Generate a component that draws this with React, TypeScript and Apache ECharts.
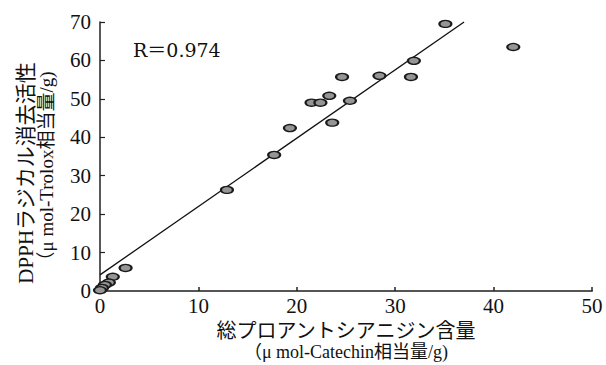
import React, { useEffect, useRef } from "react";
import * as echarts from "echarts";

const proanthocyanidin: number[] = [35.1, 42.0, 31.9, 31.6, 28.4, 24.6, 23.3, 21.5, 22.4, 25.4, 23.6, 19.3, 17.7, 12.9, 2.6, 1.3, 0.9, 0.5, 0.2, 0.0];
const dpph: number[] = [69.5, 63.5, 59.9, 55.7, 56.0, 55.7, 50.8, 49.0, 49.0, 49.5, 43.8, 42.4, 35.4, 26.3, 6.0, 3.7, 2.2, 1.6, 0.8, 0.2];
const fitX: number[] = [0, 37];
const fitY: number[] = [4.2, 70];
const xTicks = { min: 0, max: 50, interval: 10 };
const yTicks = { min: 0, max: 70, interval: 10 };

const xName1 = "総プロアントシアニジン含量";
const xName2 = "（μ mol-Catechin相当量/g)";
const yName1 = "DPPHラジカル消去活性";
const yName2 = "（μ mol-Trolox相当量/g)";
const rLabel = "R＝0.974";

const FONT = "'Liberation Serif', 'Noto Sans CJK JP', serif";

export default function App() {
  const ref = useRef<HTMLDivElement>(null);
  useEffect(() => {
    if (!ref.current) return;
    const chart = echarts.init(ref.current, undefined, { renderer: "svg" });
    chart.setOption({
      animation: false,
      backgroundColor: "#ffffff",
      grid: { left: 100, right: 14, top: 22, bottom: 74 },
      xAxis: {
        type: "value",
        min: xTicks.min,
        max: xTicks.max,
        interval: xTicks.interval,
        splitLine: { show: false },
        axisLine: { show: true, lineStyle: { color: "#555", width: 2 } },
        axisTick: { show: true, inside: true, length: 4, lineStyle: { color: "#222", width: 1.5 } },
        axisLabel: { color: "#111", fontSize: 21, fontFamily: FONT, margin: 4 },
      },
      yAxis: {
        type: "value",
        min: yTicks.min,
        max: yTicks.max,
        interval: yTicks.interval,
        splitLine: { show: false },
        axisLine: { show: true, lineStyle: { color: "#222", width: 1.5 } },
        axisTick: { show: true, inside: true, length: 5, lineStyle: { color: "#222", width: 1.2 } },
        axisLabel: { color: "#111", fontSize: 21, fontFamily: FONT, margin: 9 },
      },
      series: [
        {
          type: "line",
          data: fitX.map((x, i) => [x, fitY[i]]),
          symbol: "none",
          clip: false,
          lineStyle: { color: "#111", width: 1.3 },
          z: 1,
        },
        {
          type: "scatter",
          data: proanthocyanidin.map((x, i) => [x, dpph[i]]),
          symbol: "circle",
          symbolSize: [12, 7],
          clip: false,
          itemStyle: { color: "#959595", borderColor: "#1a1a1a", borderWidth: 1.7, opacity: 1 },
          z: 3,
        },
      ],
      graphic: [
        {
          type: "text",
          left: 133,
          top: 40,
          style: { text: rLabel, font: "19px 'DejaVu Serif', 'Noto Sans CJK JP', serif", fill: "#111" },
        },
        {
          type: "text",
          x: 346,
          y: 331,
          style: { text: xName1, font: "20px " + FONT, fill: "#111", textAlign: "center", textVerticalAlign: "middle" },
        },
        {
          type: "text",
          x: 346,
          y: 352,
          style: { text: xName2, font: "18px " + FONT, fill: "#111", textAlign: "center", textVerticalAlign: "middle" },
        },
        {
          type: "text",
          x: 26,
          y: 173,
          rotation: Math.PI / 2,
          style: { text: yName1, font: "21px " + FONT, fill: "#111", textAlign: "center", textVerticalAlign: "middle" },
        },
        {
          type: "text",
          x: 46,
          y: 171,
          rotation: Math.PI / 2,
          style: { text: yName2, font: "19px " + FONT, fill: "#111", textAlign: "center", textVerticalAlign: "middle" },
        },
      ],
    });
    return () => chart.dispose();
  }, []);
  return <div ref={ref} style={{ width: 606, height: 365, position: "fixed", left: 0, top: 0 }} />;
}
